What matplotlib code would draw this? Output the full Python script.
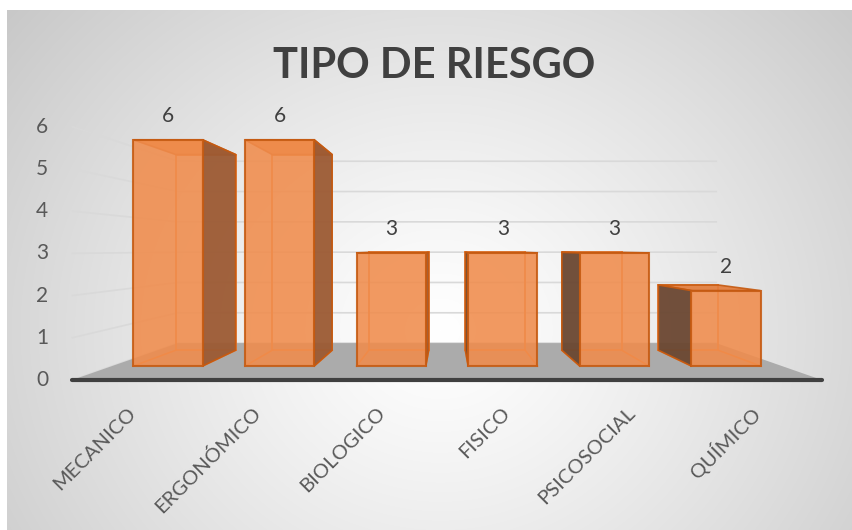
import numpy as np
import matplotlib
matplotlib.use('Agg')
import matplotlib.pyplot as plt
from matplotlib.patches import Polygon

plt.rcParams['font.family'] = ['Lato', 'DejaVu Sans']

categorias = ['MECANICO', 'ERGONÓMICO', 'BIOLOGICO', 'FISICO', 'PSICOSOCIAL', 'QUÍMICO']
valores = [6, 6, 3, 3, 3, 2]
ticks_y = [0, 1, 2, 3, 4, 5, 6]

# simple perspective: depth factor k, vanishing point (VX, VY) in data units
VX, VY = 2.5, 3.1
KF, KB, KW = 1.119, 0.865, 0.804   # floor front, bar back, back wall
HW = 0.31
X_MIN, X_MAX = -0.5, 5.5


def proj(x, y, k):
    return VX + (x - VX) * k, VY + (y - VY) * k


fig = plt.figure(figsize=(8.52, 5.3), dpi=100)

# gradient background
bg = fig.add_axes([7 / 852, 0, 845 / 852, 520 / 530])
bg.set_axis_off()
yy, xx = np.mgrid[0:520, 0:845]
r = np.hypot((xx - 433) * 0.95, (yy - 320) * 1.05)
g = 1 - 0.22 * np.clip(r / 540, 0, 1.2) ** 1.2
bg.imshow(np.dstack([g, g, g]), aspect='auto', extent=(0, 1, 0, 1))
bg.set_xlim(0, 1)
bg.set_ylim(0, 1)

ax = fig.add_axes([0, 0, 1, 1])
ax.set_axis_off()
ax.patch.set_alpha(0)
ax.set_xlim(-168 / 111.6, (852 - 168) / 111.6)
ax.set_ylim(-164 / 37.7, 366 / 37.7)

grid_c = '#d9d9d9'
# back wall and left wall gridlines
for v in ticks_y:
    x0, y0 = proj(X_MIN, v, KF)
    x1, y1 = proj(X_MIN, v, KW)
    x2, y2 = proj(X_MAX, v, KW)
    ax.plot([x0, x1, x2], [y0, y1, y2], color=grid_c, lw=1.2, zorder=1)

# floor
floor = [proj(X_MIN, 0, KF), proj(X_MAX, 0, KF), proj(X_MAX, 0, KW), proj(X_MIN, 0, KW)]
ax.add_patch(Polygon(floor, closed=True, facecolor='#ababab', edgecolor='none', zorder=2))
fx0, fy0 = proj(X_MIN, 0, KF)
fx1, fy1 = proj(X_MAX, 0, KF)
ax.plot([fx0, fx1], [fy0, fy1], color='#404040', lw=3, solid_capstyle='round', zorder=3)

# y tick labels
for v in ticks_y:
    tx, ty = proj(X_MIN, v, KF)
    ax.annotate(str(v), (tx, ty), xytext=(-24, 0), textcoords='offset pixels',
                ha='right', va='center', fontsize=15, color='#595959')

face_c = '#f08c4c'
edge_c = '#c55a11'
inner_c = '#ee7d33'

for i, v in enumerate(valores):
    xl, xr = i - HW, i + HW
    # box corners
    fbl, fbr, ftl, ftr = proj(xl, 0, 1), proj(xr, 0, 1), proj(xl, v, 1), proj(xr, v, 1)
    bbl, bbr, btl, btr = proj(xl, 0, KB), proj(xr, 0, KB), proj(xl, v, KB), proj(xr, v, KB)

    # back edges, seen through the face
    for a, b in [(bbl, bbr), (bbr, btr), (btr, btl), (btl, bbl), (fbl, bbl), (fbr, bbr)]:
        ax.plot([a[0], b[0]], [a[1], b[1]], color=inner_c, lw=1.2, zorder=4)

    # top face
    ax.add_patch(Polygon([ftl, ftr, btr, btl], closed=True, facecolor='#e27a38',
                         edgecolor=edge_c, lw=1.2, alpha=0.9, zorder=5))
    # side face
    if i < VX:
        side = [fbr, ftr, btr, bbr]
        side_c = '#9c5a33'
    else:
        side = [fbl, ftl, btl, bbl]
        side_c = '#6b4731'
    ax.add_patch(Polygon(side, closed=True, facecolor=side_c, edgecolor=edge_c,
                         lw=1.2, alpha=0.95, zorder=5))
    # front face
    ax.add_patch(Polygon([fbl, fbr, ftr, ftl], closed=True, facecolor=face_c,
                         edgecolor=edge_c, lw=1.5, alpha=0.88, zorder=6))

    # value label
    ax.annotate(str(v), (i, v), xytext=(0, 24), textcoords='offset pixels',
                ha='center', va='center', fontsize=15, color='#404040', zorder=7)

    # category label
    cx, cy = proj(i, 0, KF)
    ax.annotate(categorias[i], (cx, cy), xytext=(-2, -30), textcoords='offset pixels',
                ha='right', va='center', rotation=45, rotation_mode='anchor',
                fontsize=14.5, color='#595959')

fig.text(434 / 852, 1 - 78 / 530, 'TIPO DE RIESGO', ha='center', va='baseline',
         fontsize=30, fontweight='bold', color='#404040')

fig.savefig('out.png', dpi=100, facecolor='white')
